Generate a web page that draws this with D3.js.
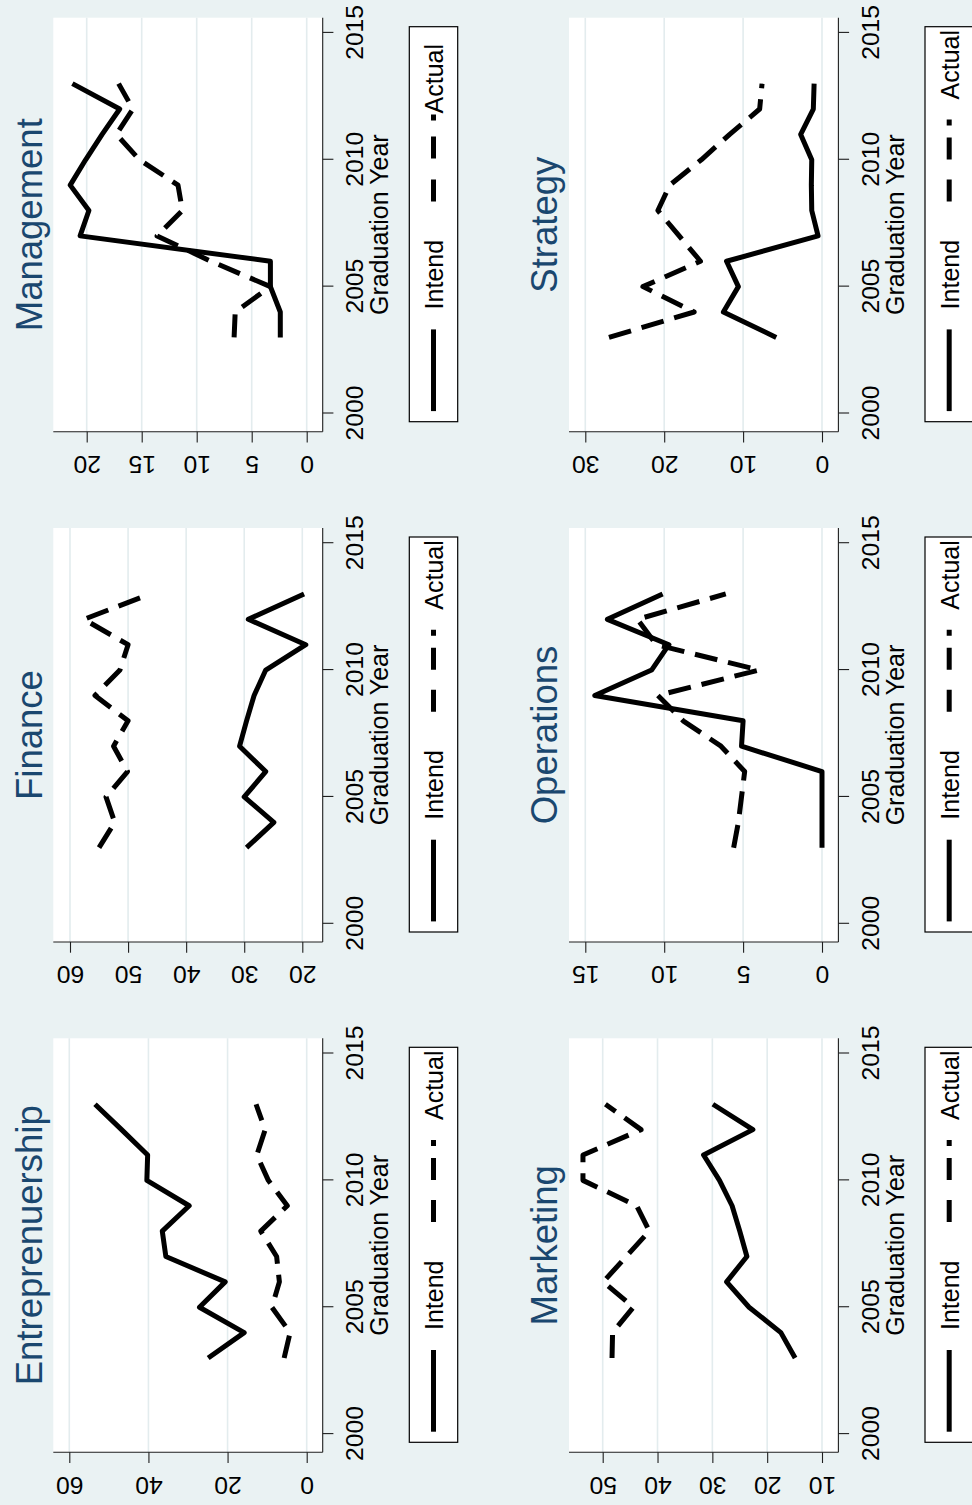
<!DOCTYPE html>
<html>
<head>
<meta charset="utf-8">
<script src="https://cdn.jsdelivr.net/npm/d3@7"></script>
<style>
html,body{margin:0;padding:0;background:#eaf2f3;}
svg{display:block;}
text{font-family:"Liberation Sans",Arial,Helvetica,sans-serif;}
</style>
</head>
<body>
<svg id="chart" width="972" height="1505"></svg>
<script>
// ---------------- data ----------------
const years = [2003, 2004, 2005, 2006, 2007, 2008, 2009, 2010, 2011, 2012, 2013];
const xTicks = [2000, 2005, 2010, 2015];
const seriesNames = ["Intend", "Actual"];
const xTitle = "Graduation Year";

const entreIntend = [24.9, 15.8, 27.1, 20.6, 35.6, 36.5, 29.7, 40.4, 40.2, 46.8, 53.5];
const entreActual = [5.7, 4.2, 8.8, 6.9, 7.6, 11.6, 4.9, 9.7, 12.6, 10.5, 12.8];
const entreTicks = [0, 20, 40, 60];

const financeIntend = [29.6, 24.9, 30.0, 26.3, 30.8, 29.6, 28.3, 26.3, 19.4, 29.3, 19.7];
const financeActual = [55.0, 52.3, 53.8, 50.1, 52.5, 50.0, 55.7, 51.4, 50.0, 57.6, 46.2];
const financeTicks = [20, 30, 40, 50, 60];

const managementIntend = [2.4, 2.4, 3.3, 3.3, 20.6, 19.8, 21.5, 20.1, 18.6, 17.0, 21.3];
const managementActual = [6.6, 6.5, 3.3, 8.7, 13.6, 11.3, 11.7, 15.2, 17.3, 15.8, 17.1];
const managementTicks = [0, 5, 10, 15, 20];

const marketingIntend = [14.9, 17.5, 23.3, 27.4, 23.7, 25.0, 26.4, 28.7, 31.6, 22.6, 29.9];
const marketingActual = [48.3, 48.2, 44.4, 49.9, 45.7, 41.5, 43.8, 53.6, 53.6, 43.0, 49.5];
const marketingTicks = [10, 20, 30, 40, 50];

const operationsIntend = [0, 0, 0, 0, 5.1, 5.0, 14.4, 10.8, 9.7, 13.6, 10.1];
const operationsActual = [5.6, 5.3, 5.1, 4.9, 6.4, 8.8, 10.4, 4.0, 10.5, 11.7, 6.1];
const operationsTicks = [0, 5, 10, 15];

const strategyIntend = [5.8, 12.5, 10.6, 12.1, 0.5, 1.3, 1.35, 1.3, 2.7, 1.1, 1.0];
const strategyActual = [27.0, 16.2, 22.7, 15.4, 18.1, 20.8, 19.3, 15.3, 11.7, 7.9, 7.6];
const strategyTicks = [0, 10, 20, 30];

// ---------------- layout (original, un-rotated orientation) ----------------
const W = 1505, H = 972;
const colX = [0, 510.3, 1020.6];
const rowY = [0, 515.7];
const plot = {x0: 52.7, x1: 466.7, y0: 53.3, y1: 322.7};

const panels = [
  {title: "Entreprenuership", intend: entreIntend, actual: entreActual, ticks: entreTicks, col: 0, row: 0, py0: 306.7, py1: 69.3, tight: false},
  {title: "Finance", intend: financeIntend, actual: financeActual, ticks: financeTicks, col: 1, row: 0, py0: 302.3, py1: 70.0, tight: false},
  {title: "Management", intend: managementIntend, actual: managementActual, ticks: managementTicks, col: 2, row: 0, py0: 306.7, py1: 86.7, tight: true},
  {title: "Marketing", intend: marketingIntend, actual: marketingActual, ticks: marketingTicks, col: 0, row: 1, py0: 306.3, py1: 87.0, tight: false},
  {title: "Operations", intend: operationsIntend, actual: operationsActual, ticks: operationsTicks, col: 1, row: 1, py0: 306.3, py1: 69.6, tight: false},
  {title: "Strategy", intend: strategyIntend, actual: strategyActual, ticks: strategyTicks, col: 2, row: 1, py0: 306.3, py1: 69.6, tight: false}
];

const svg = d3.select("#chart");
svg.append("rect").attr("width", 972).attr("height", 1505).attr("fill", "#eaf2f3");

// rotate whole original chart 90 degrees counter-clockwise
const root = svg.append("g").attr("transform", `translate(0,${W}) rotate(-90)`);

const x = d3.scaleLinear().domain([2000, 2015]).range([70.9, 451.5]);

panels.forEach(p => {
  const g = root.append("g").attr("transform", `translate(${colX[p.col]},${rowY[p.row]})`);
  const y = d3.scaleLinear().domain([p.ticks[0], p.ticks[p.ticks.length - 1]]).range([p.py0, p.py1]);

  // plot region
  g.append("rect").attr("x", plot.x0).attr("y", plot.y0)
    .attr("width", plot.x1 - plot.x0).attr("height", plot.y1 - plot.y0).attr("fill", "#ffffff");

  // grid lines
  g.append("g").selectAll("line").data(p.ticks).join("line")
    .attr("x1", plot.x0).attr("x2", plot.x1)
    .attr("y1", d => y(d)).attr("y2", d => y(d))
    .attr("stroke", "#e3ecee").attr("stroke-width", 1.6);

  // x axis
  const xa = g.append("g").attr("transform", `translate(0,${plot.y1})`)
    .call(d3.axisBottom(x).tickValues(xTicks).tickFormat(d3.format("d")).tickSize(10.7).tickSizeOuter(0));
  xa.select(".domain").remove();
  xa.selectAll(".tick line").attr("stroke", "#1e1e1e").attr("stroke-width", 1.1);
  xa.selectAll(".tick text").attr("y", 40.6).attr("dy", 0)
    .attr("font-size", 24.7).attr("fill", "#000").attr("font-family", '"Liberation Sans",Arial,sans-serif');

  // y axis
  const ya = g.append("g").attr("transform", `translate(${plot.x0},0)`)
    .call(d3.axisLeft(y).tickValues(p.ticks).tickFormat(d3.format("d")).tickSize(10.7).tickSizeOuter(0));
  ya.select(".domain").remove();
  ya.selectAll(".tick line").attr("stroke", "#1e1e1e").attr("stroke-width", 1.1);
  ya.selectAll(".tick text").attr("x", 0).attr("y", 0).attr("dy", 0)
    .attr("text-anchor", "middle")
    .attr("transform", `translate(${28.3 - plot.x0},0) rotate(-90)`)
    .attr("font-size", 24.7).attr("fill", "#000").attr("font-family", '"Liberation Sans",Arial,sans-serif');

  // axis lines
  g.append("line").attr("x1", plot.x0).attr("x2", plot.x1).attr("y1", plot.y1).attr("y2", plot.y1)
    .attr("stroke", "#1e1e1e").attr("stroke-width", 1.1);
  g.append("line").attr("x1", plot.x0).attr("x2", plot.x0).attr("y1", plot.y0).attr("y2", plot.y1)
    .attr("stroke", "#1e1e1e").attr("stroke-width", 1.1);

  // axis title
  g.append("text").attr("x", (plot.x0 + plot.x1) / 2).attr("y", 388.3)
    .attr("text-anchor", "middle").attr("font-size", 25).attr("fill", "#000").text(xTitle);

  // panel title
  g.append("text").attr("x", (plot.x0 + plot.x1) / 2).attr("y", 41.7)
    .attr("text-anchor", "middle").attr("font-size", 36.5).attr("fill", "#1a476f").text(p.title);

  // series
  const line = d3.line().x((d, i) => x(years[i])).y(d => y(d));
  g.append("path").datum(p.intend).attr("d", line)
    .attr("fill", "none").attr("stroke", "#000").attr("stroke-width", 5)
    .attr("stroke-linejoin", "round").attr("stroke-linecap", "butt");
  g.append("path").datum(p.actual).attr("d", line)
    .attr("fill", "none").attr("stroke", "#000").attr("stroke-width", 5)
    .attr("stroke-dasharray", "23,11")
    .attr("stroke-linejoin", "round").attr("stroke-linecap", "butt");

  // legend
  const lg = g.append("g");
  lg.append("rect").attr("x", 62.7).attr("y", 409.3).attr("width", 395).attr("height", 48.4)
    .attr("fill", "#fff").attr("stroke", "#000").attr("stroke-width", 1.2);
  lg.append("line").attr("x1", 73.3).attr("x2", 155).attr("y1", 433.5).attr("y2", 433.5)
    .attr("stroke", "#000").attr("stroke-width", 5);
  lg.append("text").attr("x", 175).attr("y", 443.3).attr("font-size", 25).attr("fill", "#000").text(seriesNames[0]);
  lg.append("line").attr("x1", 283).attr("x2", p.tight ? 371 : 366).attr("y1", 433.5).attr("y2", 433.5)
    .attr("stroke", "#000").attr("stroke-width", 5)
    .attr("stroke-dasharray", p.tight ? "22,21,22,16,6,50" : "22,20,22,12,6,50");
  lg.append("text").attr("x", p.tight ? 371 : 385).attr("y", 443.3).attr("font-size", 25).attr("fill", "#000").text(seriesNames[1]);
});
</script>
</body>
</html>
